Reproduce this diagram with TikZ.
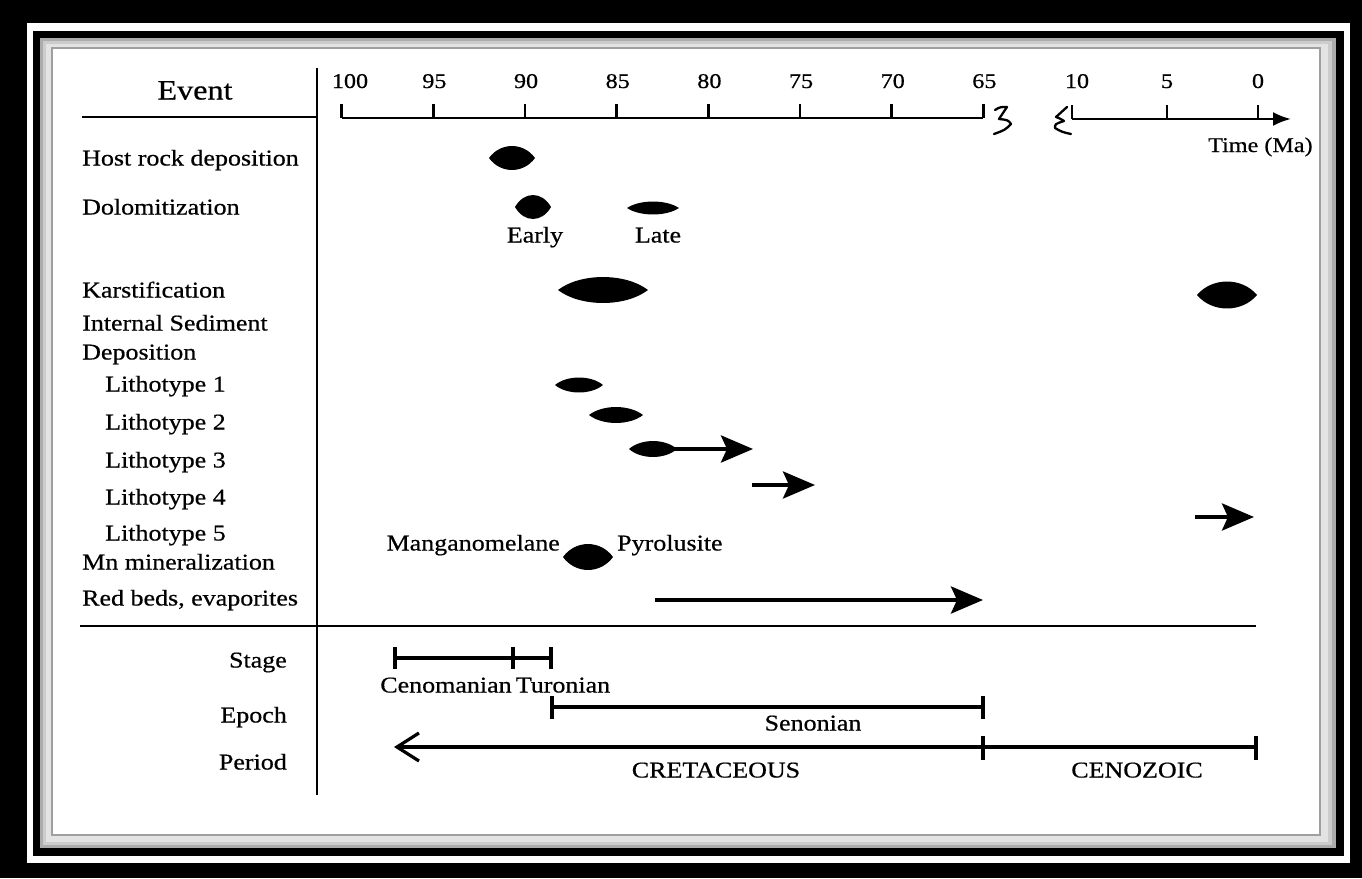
\documentclass[tikz,border=0pt]{standalone}
\usepackage{fontspec}
\setmainfont{Liberation Serif}[FakeStretch=1.15,FakeBold=0.6]
\usetikzlibrary{arrows.meta}
\newcommand\lensshape[4]{\fill ({#1-#3},#2) .. controls ({#1-0.5*#3},{#2-1.33*#4}) and ({#1+0.5*#3},{#2-1.33*#4}) .. ({#1+#3},#2) .. controls ({#1+0.5*#3},{#2+1.33*#4}) and ({#1-0.5*#3},{#2+1.33*#4}) .. cycle;}
\begin{document}
\begin{tikzpicture}[x=1pt,y=-1pt,
  lbl/.style={font=\fontsize{22.6}{27}\selectfont, inner sep=0pt, anchor=west, text height=15pt, text depth=0pt},
  lblr/.style={lbl, anchor=east},
  lblc/.style={lbl, anchor=center},
  ticklbl/.style={font=\fontsize{21}{25}\selectfont, inner sep=0pt, text height=14pt, text depth=0pt},
  axisline/.style={line width=2.5pt},
  rule/.style={line width=2.2pt},
  bigarrow/.style={line width=4pt, -{Stealth[length=32pt,width=27pt,inset=6pt]}},
  bar/.style={line width=3.2pt},
]
\useasboundingbox (0,0) rectangle (1362,878);
% frame
\fill[black] (0,0) rectangle (1362,878);
\fill[white] (27,23) rectangle (1350,863);
\fill[black] (33,31) rectangle (1344,856);
\fill[gray!65] (40,38) rectangle (1336,848);
\fill[gray!40] (43,41) rectangle (1332,845);
\fill[gray!22] (46,44) rectangle (1328,842);
\filldraw[fill=white, draw=gray!75, line width=1.6pt] (52,48) rectangle (1320,835);

% header and rules
\node[font=\fontsize{28}{32}\selectfont, inner sep=0pt, text height=19pt, text depth=0pt] (event) at (195,90) {Event};
\draw[rule] (82,117) -- (317,117);
\draw[rule] (317,68) -- (317,795);
\draw[line width=2pt] (80,626) -- (1256,626);

% top axis
\draw[axisline] (341.7,118) -- (983.3,118);
\foreach \v [count=\i from 0] in {100,95,90,85,80,75,70,65} {
  \pgfmathsetmacro\xx{341.7+\i*91.67}
  \draw[axisline] (\xx,104) -- (\xx,118);
}
\node[ticklbl] (t100) at (350,81) {100};
\foreach \v [count=\i from 1] in {95,90,85,80,75,70,65} {
  \pgfmathsetmacro\xx{341.7+\i*91.67+1}
  \node[ticklbl] (t\v) at (\xx,81) {\v};
}
% breaks
\draw[line width=2.3pt, line join=round, line cap=round] (995,110) .. controls (1000,107) .. (1007,107) -- (999,119) .. controls (1008,120) .. (1011,124) .. controls (1005,130) .. (994,134);
\draw[line width=2.3pt, line join=round, line cap=round] (1067,107) -- (1056,117) .. controls (1061,119) .. (1064,121) .. controls (1055,124) .. (1055,128) .. controls (1062,132) .. (1071,134);
% right axis
\coordinate (ra0) at (1072,119);
\coordinate (ra1) at (1291,119);
\draw[axisline, -{Latex[length=18pt,width=14pt]}] (ra0) -- (ra1);
\foreach \xx in {1072,1167,1258} { \draw[axisline] (\xx,105) -- (\xx,119); }
\node[ticklbl] (t10) at (1077,81) {10};
\node[ticklbl] (t5) at (1167,81) {5};
\node[ticklbl] (t0) at (1258,81) {0};
\node[ticklbl, anchor=west] (time) at (1208,145) {Time (Ma)};

% event labels
\node[lbl] (host) at (82,158) {Host rock deposition};
\node[lbl] (dolo) at (82,207) {Dolomitization};
\node[lbl] (karst) at (82,290) {Karstification};
\node[lbl] (isd) at (82,323) {Internal Sediment};
\node[lbl] (dep) at (82,352) {Deposition};
\node[lbl] (l1) at (105,384) {Lithotype 1};
\node[lbl] (l2) at (105,422) {Lithotype 2};
\node[lbl] (l3) at (105,460) {Lithotype 3};
\node[lbl] (l4) at (105,497) {Lithotype 4};
\node[lbl] (l5) at (105,533) {Lithotype 5};
\node[lbl] (mn) at (82,562) {Mn mineralization};
\node[lbl] (red) at (82,598) {Red beds, evaporites};

% chart marks
\lensshape{512}{158}{23}{12}
\lensshape{533}{207}{18}{12}
\lensshape{653}{208}{26}{6.5}
\node[lblc] (early) at (535,235) {Early};
\node[lblc] (late) at (658,235) {Late};
\lensshape{603}{290}{45}{13}
\lensshape{1227}{295}{30}{13.5}
\lensshape{579}{385}{24}{7.5}
\lensshape{616}{415}{27}{8}
\lensshape{653}{449}{24}{8}
\coordinate (a3s) at (675,449);
\coordinate (a3e) at (753,449);
\draw[bigarrow] (a3s) -- (a3e);
\coordinate (a4s) at (752,485);
\coordinate (a4e) at (815,485);
\draw[bigarrow] (a4s) -- (a4e);
\coordinate (a5s) at (1195,517);
\coordinate (a5e) at (1254,517);
\draw[bigarrow] (a5s) -- (a5e);
\lensshape{588}{557}{25}{13}
\node[lbl, anchor=east] (mang) at (560,543) {Manganomelane};
\node[lbl] (pyro) at (617,543) {Pyrolusite};
\coordinate (rbs) at (655,600);
\coordinate (rbe) at (983,600);
\draw[bigarrow] (rbs) -- (rbe);

% lower section
\node[lblr] (stage) at (287,660) {Stage};
\node[lblr] (epoch) at (287,715) {Epoch};
\node[lblr] (period) at (287,762) {Period};

\draw[bar] (395,658) -- (551,658);
\foreach \xx in {395,513,551} { \draw[bar] (\xx,647) -- (\xx,669); }
\node[lblc] (ceno) at (446,685) {Cenomanian};
\node[lblc] (turo) at (563,685) {Turonian};

\draw[bar] (552,707) -- (983,707);
\foreach \xx in {552,983} { \draw[bar] (\xx,696) -- (\xx,719); }
\node[lblc] (seno) at (813,723) {Senonian};

\coordinate (pL) at (394,747);
\coordinate (pM) at (983,747);
\coordinate (pR) at (1256,747);
\draw[bar, -{Straight Barb[length=22pt,width=28pt]}] (pM) -- (pL);
\draw[bar] (pM) -- (pR);
\foreach \xx in {983,1256} { \draw[bar] (\xx,736) -- (\xx,760); }
\node[lblc] (cret) at (716,770) {CRETACEOUS};
\node[lblc] (cenoz) at (1137,770) {CENOZOIC};
\end{tikzpicture}
\end{document}
